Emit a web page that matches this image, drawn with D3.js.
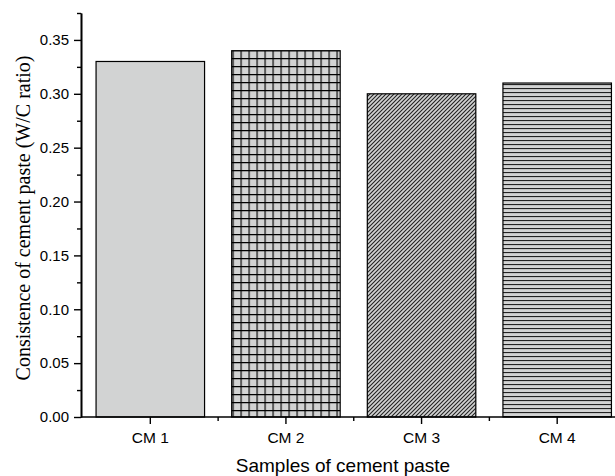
<!DOCTYPE html>
<html>
<head>
<meta charset="utf-8">
<script src="https://cdn.jsdelivr.net/npm/d3@7"></script>
<style>
  html, body { margin: 0; padding: 0; background: #fff; }
  svg { display: block; }
</style>
</head>
<body>
<svg id="chart" width="615" height="476"></svg>
<script>
// Sample names and measured W/C ratio for each paste
const categories = ["CM 1", "CM 2", "CM 3", "CM 4"];
const values = [0.33, 0.34, 0.30, 0.31];
const fills = ["solid", "grid", "diag", "horiz"];
const yTicks = [0.00, 0.05, 0.10, 0.15, 0.20, 0.25, 0.30, 0.35];
const yMinorTicks = [0.025, 0.075, 0.125, 0.175, 0.225, 0.275, 0.325, 0.375];

const svg = d3.select("#chart");
const gray = "#d2d3d3";
const sans = "Liberation Sans, Arial, sans-serif";

// Hatch patterns used for the bar fills
const defs = svg.append("defs");

const pGrid = defs.append("pattern").attr("id", "grid")
  .attr("patternUnits", "userSpaceOnUse").attr("width", 8).attr("height", 8)
  .attr("x", 0.5).attr("y", 2);
pGrid.append("rect").attr("width", 8).attr("height", 8).attr("fill", gray);
pGrid.append("path").attr("d", "M0,0.5H8M0.5,0V8").attr("stroke", "#000").attr("stroke-width", 1.3);

const pDiag = defs.append("pattern").attr("id", "diag")
  .attr("patternUnits", "userSpaceOnUse").attr("width", 4).attr("height", 4);
pDiag.append("rect").attr("width", 4).attr("height", 4).attr("fill", gray);
pDiag.append("path").attr("d", "M-1,1L1,-1M0,4L4,0M3,5L5,3")
  .attr("stroke", "#222").attr("stroke-width", 1.1);

const pHoriz = defs.append("pattern").attr("id", "horiz")
  .attr("patternUnits", "userSpaceOnUse").attr("width", 8).attr("height", 4);
pHoriz.append("rect").attr("width", 8).attr("height", 4).attr("fill", gray);
pHoriz.append("path").attr("d", "M0,0.5H8").attr("stroke", "#222").attr("stroke-width", 1.2);

const fillOf = f => f === "solid" ? gray : `url(#${f})`;

// Scales
const x = d3.scaleBand().domain(categories).range([82.5, 625])
  .paddingInner(0.2).paddingOuter(0.1);
const y = d3.scaleLinear().domain([0, 0.375]).range([417, 13]);

// Bars
svg.append("g").selectAll("rect").data(categories).join("rect")
  .attr("x", d => x(d))
  .attr("y", (d, i) => y(values[i]))
  .attr("width", x.bandwidth())
  .attr("height", (d, i) => y(0) - y(values[i]))
  .attr("fill", (d, i) => fillOf(fills[i]))
  .attr("stroke", "#000")
  .attr("stroke-width", 1.2);

// Y axis
const yAxis = svg.append("g").attr("transform", "translate(81,0)");
yAxis.call(d3.axisLeft(y).tickValues(yTicks).tickFormat(d3.format(".2f"))
  .tickSize(7).tickSizeOuter(0).tickPadding(5));
yAxis.append("g").call(d3.axisLeft(y).tickValues(yMinorTicks).tickFormat("")
  .tickSize(4).tickSizeOuter(0));
yAxis.selectAll("path.domain").attr("stroke-width", 1.6);
yAxis.selectAll(".tick line").attr("stroke-width", 1.4);
yAxis.selectAll("text").attr("font-family", sans)
  .attr("font-size", 15).attr("fill", "#000");

// X axis
const xAxis = svg.append("g").attr("transform", "translate(0,417)");
xAxis.call(d3.axisBottom(x).tickSize(7).tickSizeOuter(0).tickPadding(8));
const boundaries = categories.slice(1).map(c => x(c) - x.step() * x.paddingInner() / 2);
xAxis.append("g").selectAll("line").data(boundaries).join("line")
  .attr("x1", d => d).attr("x2", d => d).attr("y1", 0).attr("y2", 4)
  .attr("stroke", "#000").attr("stroke-width", 1.4);
xAxis.select("path.domain").attr("d", "M81,0H615").attr("stroke-width", 1.6);
xAxis.selectAll(".tick line").attr("stroke-width", 1.4);
xAxis.selectAll("text").attr("font-family", sans)
  .attr("font-size", 15.5).attr("fill", "#000");

// Axis titles
svg.append("text")
  .attr("x", 343).attr("y", 472)
  .attr("text-anchor", "middle")
  .attr("font-family", sans)
  .attr("font-size", 19)
  .text("Samples of cement paste");

svg.append("text")
  .attr("transform", "translate(30,218) rotate(-90)")
  .attr("text-anchor", "middle")
  .attr("font-family", "Liberation Serif, Times New Roman, serif")
  .attr("font-size", 20)
  .text("Consistence of cement paste (W/C ratio)");
</script>
</body>
</html>
